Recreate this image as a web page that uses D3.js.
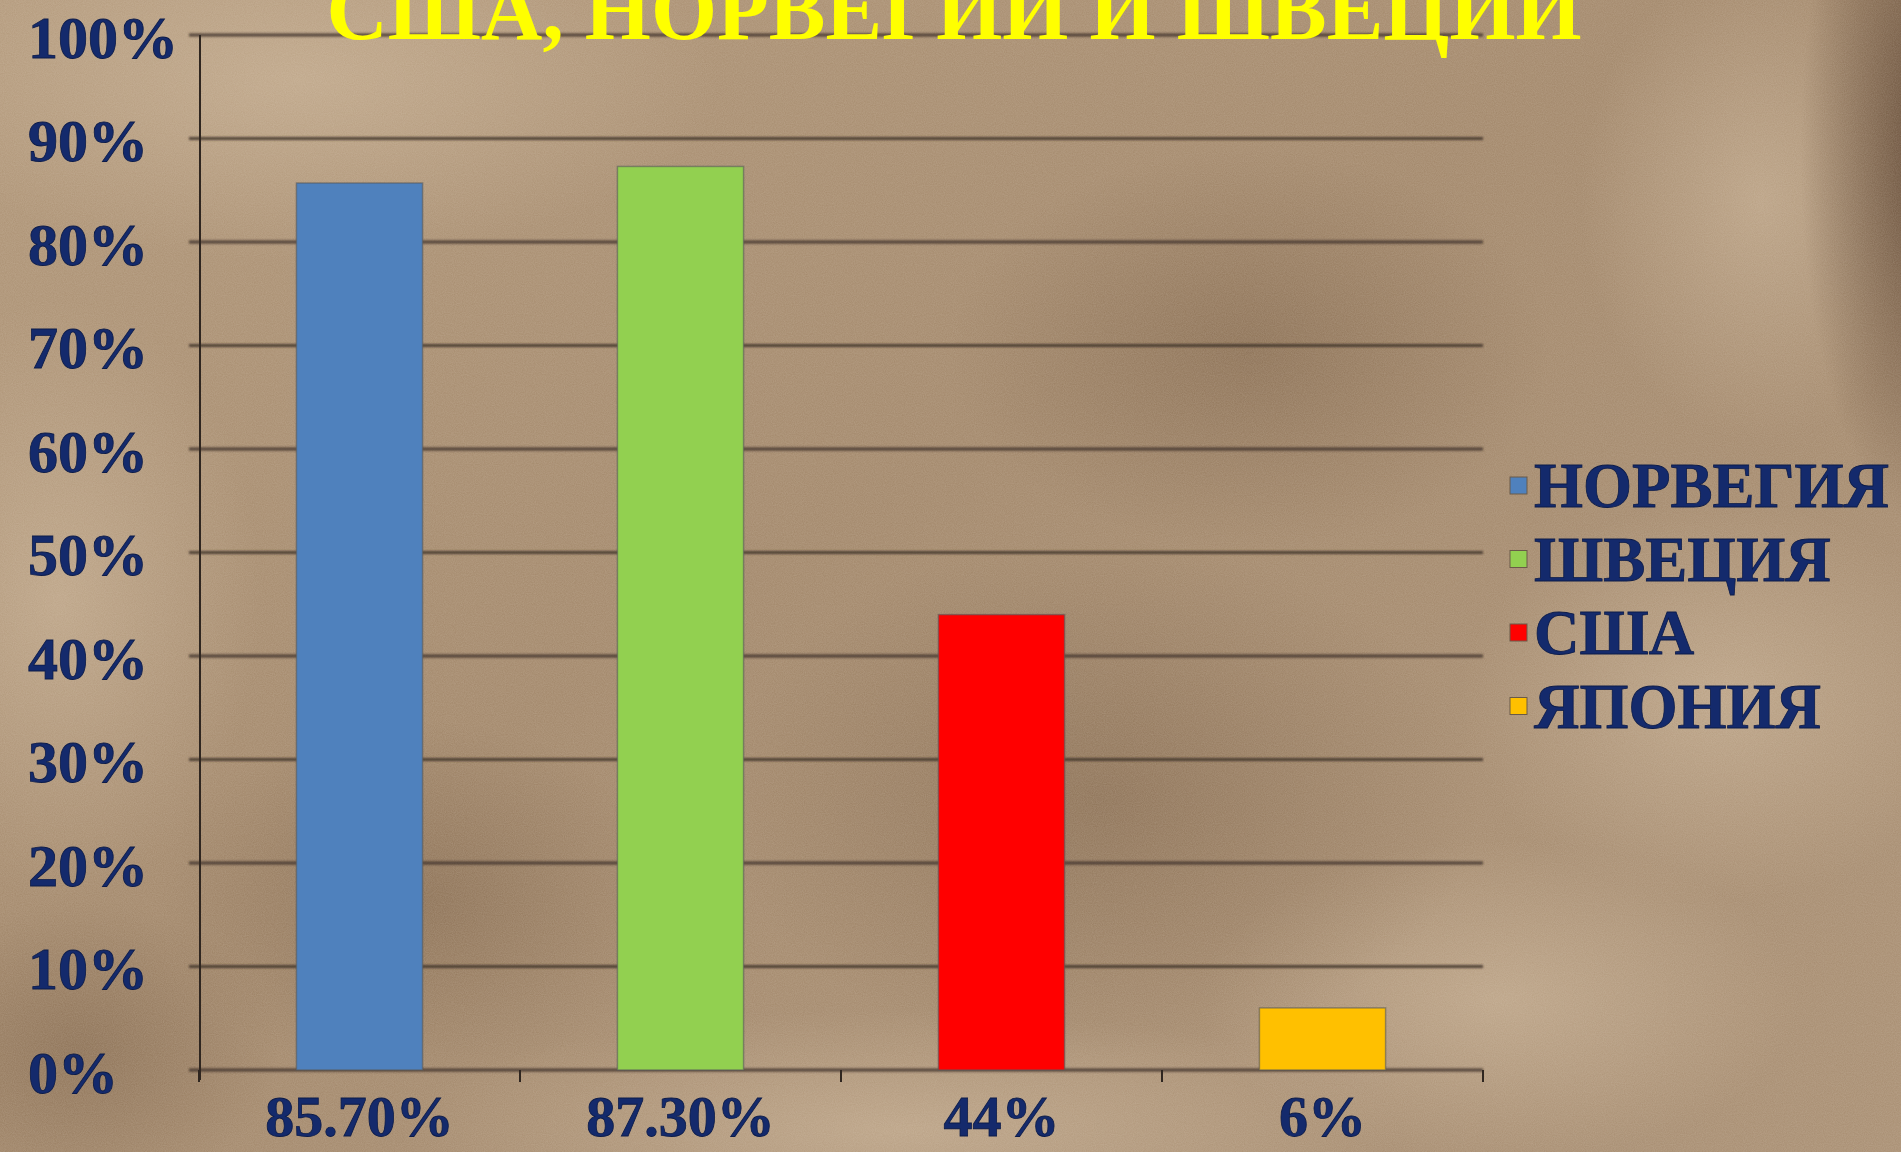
<!DOCTYPE html>
<html>
<head>
<meta charset="utf-8">
<script src="https://cdn.jsdelivr.net/npm/d3@7"></script>
<style>
  body { margin: 0; background: #a68b6c; }
  svg { display: block; }
  text { font-family: "Liberation Serif", "Times New Roman", serif; font-weight: bold; }
</style>
</head>
<body>
<div id="chart"></div>
<script>
(function () {

// chart data
const title = "США, НОРВЕГИИ И ШВЕЦИИ";
const categories = ["85.70%", "87.30%", "44%", "6%"];
const countries = ["НОРВЕГИЯ", "ШВЕЦИЯ", "США", "ЯПОНИЯ"];
const values = [85.7, 87.3, 44, 6];
const yTicks = [0, 10, 20, 30, 40, 50, 60, 70, 80, 90, 100];

const width = 1901, height = 1152;

const svg = d3.select("#chart").append("svg")
    .attr("width", width)
    .attr("height", height);

const defs = svg.append("defs");

// suede-ish background: a few soft gradients + noise
const base = defs.append("linearGradient").attr("id", "bg")
    .attr("x1", 0).attr("y1", 0).attr("x2", 1).attr("y2", 1);
base.append("stop").attr("offset", "0%").attr("stop-color", "#b09678");
base.append("stop").attr("offset", "45%").attr("stop-color", "#a2876a");
base.append("stop").attr("offset", "100%").attr("stop-color", "#a88e72");

function radial(id, color, op) {
  const g = defs.append("radialGradient").attr("id", id);
  g.append("stop").attr("offset", "0%").attr("stop-color", color).attr("stop-opacity", op);
  g.append("stop").attr("offset", "100%").attr("stop-color", color).attr("stop-opacity", 0);
}
radial("light", "#d2bca0", 0.5);
radial("dark", "#6e533a", 0.4);
radial("edge", "#4e3523", 0.8);

const noise = defs.append("filter").attr("id", "noise");
noise.append("feTurbulence").attr("type", "fractalNoise")
    .attr("baseFrequency", 0.9).attr("numOctaves", 2).attr("seed", 3);
noise.append("feColorMatrix").attr("type", "matrix")
    .attr("values", "0 0 0 0 0.95  0 0 0 0 0.88  0 0 0 0 0.78  0 0 0 0.18 0");

const soft = defs.append("filter").attr("id", "soft");
soft.append("feGaussianBlur").attr("stdDeviation", 0.8);

const bg = svg.append("g");
bg.append("rect").attr("width", width).attr("height", height).attr("fill", "url(#bg)");
// light folds
[[1720, 700, 260, 200], [1760, 200, 180, 240], [300, 80, 420, 180], [900, 1130, 500, 120],
 [1500, 1000, 300, 160], [60, 600, 200, 300]].forEach(d =>
  bg.append("ellipse").attr("cx", d[0]).attr("cy", d[1]).attr("rx", d[2]).attr("ry", d[3])
    .attr("fill", "url(#light)"));
// darker folds
[[1100, 800, 380, 260], [420, 900, 260, 180], [1250, 350, 300, 200], [80, 1050, 200, 150]].forEach(d =>
  bg.append("ellipse").attr("cx", d[0]).attr("cy", d[1]).attr("rx", d[2]).attr("ry", d[3])
    .attr("fill", "url(#dark)"));
bg.append("ellipse").attr("cx", 1930).attr("cy", 150).attr("rx", 130).attr("ry", 380)
    .attr("fill", "url(#edge)");
bg.append("rect").attr("width", width).attr("height", height).attr("filter", "url(#noise)");

// scales
const left = 200, right = 1483, top = 35, bottom = 1070;
const x = d3.scaleBand().domain(categories).range([199, right])
    .paddingInner(0.607).paddingOuter(0.3035);
const y = d3.scaleLinear([0, 100], [bottom, top]);
const color = d3.scaleOrdinal(countries, ["#4f81bd", "#92d050", "#ff0000", "#ffc000"]);

const textColor = "#142a6c";

// gridlines
svg.append("g").attr("filter", "url(#soft)")
  .selectAll("line")
  .data(yTicks)
  .join("line")
    .attr("x1", left - 11).attr("x2", right)
    .attr("y1", d => y(d)).attr("y2", d => y(d))
    .attr("stroke", "#3f3329").attr("stroke-opacity", 0.85).attr("stroke-width", 3);

// y axis line
svg.append("line")
    .attr("x1", left).attr("x2", left)
    .attr("y1", y(100)).attr("y2", bottom + 10)
    .attr("stroke", "#2f2620").attr("stroke-width", 2);

// x axis ticks at category boundaries
svg.append("g").selectAll("line")
  .data(d3.range(categories.length + 1))
  .join("line")
    .attr("x1", i => x.range()[0] + i * x.step())
    .attr("x2", i => x.range()[0] + i * x.step())
    .attr("y1", bottom).attr("y2", bottom + 12)
    .attr("stroke", "#2f2620").attr("stroke-width", 2);

// bars
svg.append("g").selectAll("rect")
  .data(values)
  .join("rect")
    .attr("x", (d, i) => x(categories[i]))
    .attr("width", x.bandwidth())
    .attr("y", d => y(d))
    .attr("height", d => y(0) - y(d))
    .attr("fill", (d, i) => color(countries[i]))
    .attr("stroke", "#5a5a5a").attr("stroke-opacity", 0.6).attr("stroke-width", 1.5);

// y labels (left aligned)
svg.append("g").selectAll("text")
  .data(yTicks)
  .join("text")
    .attr("x", 28)
    .attr("y", d => y(d))
    .attr("dy", "0.38em")
    .attr("font-size", 60)
    .attr("fill", textColor).attr("stroke", "#0c1b48").attr("stroke-width", 0.8)
    .text(d => d + "%");

// x labels
svg.append("g").selectAll("text")
  .data(categories)
  .join("text")
    .attr("x", d => x(d) + x.bandwidth() / 2)
    .attr("y", 1136)
    .attr("text-anchor", "middle")
    .attr("font-size", 58)
    .attr("fill", textColor).attr("stroke", "#0c1b48").attr("stroke-width", 0.8)
    .text(d => d);

// legend
const legend = svg.append("g").selectAll("g")
  .data(countries)
  .join("g")
    .attr("transform", (d, i) => "translate(1510," + (507 + i * 73.5) + ")");
legend.append("rect")
    .attr("x", 0).attr("y", -30).attr("width", 17).attr("height", 17)
    .attr("fill", d => color(d))
    .attr("stroke", "#6a5a48").attr("stroke-width", 1);
legend.append("text")
    .attr("x", 24)
    .attr("font-size", 63)
    .attr("fill", textColor).attr("stroke", "#0c1b48").attr("stroke-width", 0.8)
    .text(d => d);

// title, cut off at the top edge like the slide
svg.append("text")
    .attr("x", 954)
    .attr("y", 39)
    .attr("text-anchor", "middle")
    .attr("font-size", 86)
    .attr("textLength", 1255)
    .attr("lengthAdjust", "spacingAndGlyphs")
    .attr("fill", "#ffff00")
    .text(title);

})()
</script>
</body>
</html>
